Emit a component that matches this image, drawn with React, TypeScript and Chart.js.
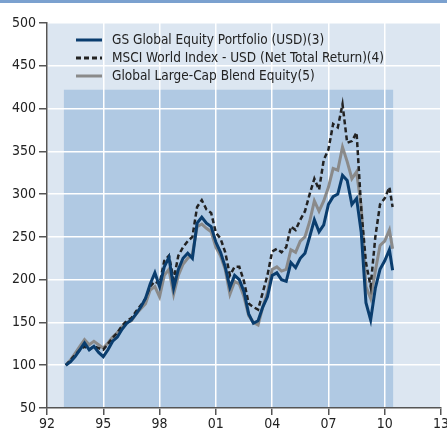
import { useEffect, useRef } from 'react';
import { Chart, registerables } from 'chart.js';

Chart.register(...registerables);

// Quarterly observation dates (decimal years)
const years = [
  1993.0, 1993.25, 1993.5, 1993.75,
  1994.0, 1994.25, 1994.5, 1994.75,
  1995.0, 1995.25, 1995.5, 1995.75,
  1996.0, 1996.25, 1996.5, 1996.75,
  1997.0, 1997.25, 1997.5, 1997.75,
  1998.0, 1998.25, 1998.5, 1998.75,
  1999.0, 1999.25, 1999.5, 1999.75,
  2000.0, 2000.25, 2000.5, 2000.75,
  2001.0, 2001.25, 2001.5, 2001.75,
  2002.0, 2002.25, 2002.5, 2002.75,
  2003.0, 2003.25, 2003.5, 2003.75,
  2004.0, 2004.25, 2004.5, 2004.75,
  2005.0, 2005.25, 2005.5, 2005.75,
  2006.0, 2006.25, 2006.5, 2006.75,
  2007.0, 2007.25, 2007.5, 2007.75,
  2008.0, 2008.25, 2008.5, 2008.75,
  2009.0, 2009.25, 2009.5, 2009.75,
  2010.0, 2010.25, 2010.42,
];

const gsPortfolio = [
  100, 104, 110, 118,
  126, 118, 122, 115,
  110, 118, 128, 133,
  142, 149, 153, 160,
  168, 178, 195, 208,
  192, 215, 226, 190,
  212, 225, 231, 225,
  266, 273, 266, 262,
  244, 232, 215, 191,
  205, 200, 186, 160,
  149, 152, 168, 180,
  205, 208, 200, 198,
  220, 214, 225, 231,
  250, 270, 256, 264,
  288, 297, 300, 322,
  316, 288, 295, 255,
  173, 153, 190, 212,
  222, 235, 211,
];

const msciWorld = [
  100, 106, 112, 118,
  122, 118, 122, 120,
  118, 125, 132, 138,
  146, 152, 155, 163,
  170, 178, 192, 198,
  195, 222, 228, 200,
  228, 238, 245, 250,
  285, 293, 282, 278,
  255, 248, 232, 205,
  215, 215, 198, 172,
  168, 165, 185, 205,
  233, 236, 232, 238,
  262, 258, 270, 280,
  300, 318, 305, 340,
  352, 382, 378, 405,
  360, 362, 372, 282,
  220, 192, 250, 288,
  295, 308, 285,
];

const largeCapBlend = [
  100, 106, 114, 122,
  130, 124, 128, 124,
  120, 126, 133, 138,
  145, 150, 152, 160,
  166, 172, 188, 192,
  180, 205, 212, 183,
  205, 218, 225, 230,
  262, 265, 260, 256,
  238, 228, 212, 183,
  198, 195, 180, 158,
  150, 147, 168, 185,
  212, 215, 210, 212,
  235, 232, 245, 250,
  268, 292, 280, 292,
  308, 330, 328, 355,
  338, 318, 326, 285,
  192, 178, 210, 240,
  245, 258, 236,
];

const seriesLabels = [
  'GS Global Equity Portfolio (USD)(3)',
  'MSCI World Index - USD (Net Total Return)(4)',
  'Global Large-Cap Blend Equity(5)',
];

const xMin = 1992;
const xMax = 2013;
const xStep = 3;
const yMin = 50;
const yMax = 500;
const yStep = 50;

// shaded period (performance window)
const bandStartYear = 1992.9;
const bandEndYear = 2010.45;
const bandTopValue = 422;

const FONT = "'Liberation Sans Narrow', 'DejaVu Sans Condensed', 'Liberation Sans', sans-serif";

const backgroundPlugin = {
  id: 'bgPlugin',
  beforeDraw(chart: any) {
    const { ctx, chartArea: a, scales } = chart;
    const x = scales.x;
    const y = scales.y;
    ctx.save();
    ctx.fillStyle = '#7ba1cf';
    ctx.fillRect(0, 0, chart.width, 3);
    ctx.fillStyle = '#dce6f1';
    ctx.fillRect(a.left, a.top, a.right - a.left, a.bottom - a.top);
    const x0 = x.getPixelForValue(bandStartYear);
    const x1 = x.getPixelForValue(bandEndYear);
    const yt = y.getPixelForValue(bandTopValue);
    ctx.fillStyle = '#b0c9e3';
    ctx.fillRect(x0, yt, x1 - x0, a.bottom - yt);
    ctx.restore();
  },
};

const legendPlugin = {
  id: 'insideLegend',
  afterDraw(chart: any) {
    const { ctx, chartArea: a } = chart;
    const lx = a.left + 29;
    const ly = a.top + 17;
    const gap = 18;
    chart.data.datasets.forEach((ds: any, i: number) => {
      const yc = ly + i * gap;
      ctx.save();
      ctx.strokeStyle = ds.borderColor;
      ctx.lineWidth = 3;
      ctx.setLineDash(ds.borderDash || []);
      ctx.beginPath();
      ctx.moveTo(lx, yc);
      ctx.lineTo(lx + 26, yc);
      ctx.stroke();
      ctx.setLineDash([]);
      ctx.fillStyle = '#222222';
      ctx.font = `13.5px ${FONT}`;
      ctx.textBaseline = 'middle';
      ctx.textAlign = 'left';
      ctx.fillText(ds.label, lx + 36, yc);
      ctx.restore();
    });
  },
};

export default function App() {
  const canvasRef = useRef<HTMLCanvasElement | null>(null);

  useEffect(() => {
    if (!canvasRef.current) return;
    const toPoints = (vals: number[]) => vals.map((v, i) => ({ x: years[i], y: v }));
    const chart = new Chart(canvasRef.current, {
      type: 'line',
      data: {
        datasets: [
          {
            label: seriesLabels[0],
            data: toPoints(gsPortfolio),
            borderColor: '#0a3d6e',
            borderWidth: 3,
            pointRadius: 0,
            tension: 0,
            fill: false,
          },
          {
            label: seriesLabels[1],
            data: toPoints(msciWorld),
            borderColor: '#222222',
            borderWidth: 2.5,
            borderDash: [5, 3],
            pointRadius: 0,
            tension: 0,
            fill: false,
          },
          {
            label: seriesLabels[2],
            data: toPoints(largeCapBlend),
            borderColor: '#8a8a8a',
            borderWidth: 3,
            pointRadius: 0,
            tension: 0,
            fill: false,
          },
        ],
      },
      options: {
        responsive: false,
        animation: false,
        layout: { padding: { top: 23, right: 6, left: 0, bottom: 0 } },
        plugins: {
          legend: { display: false },
          tooltip: { enabled: false },
        },
        scales: {
          x: {
            type: 'linear',
            min: xMin,
            max: xMax,
            afterFit: (s: any) => {
              s.height = 25;
              s.paddingLeft = 0;
              s.paddingRight = 0;
            },
            afterBuildTicks: (s: any) => {
              const t = [];
              for (let v = xMin; v <= xMax; v += xStep) t.push({ value: v });
              s.ticks = t;
            },
            ticks: {
              callback: (v: any) => String(Number(v) % 100).padStart(2, '0'),
              color: '#222222',
              font: { family: FONT, size: 14 },
              padding: 1,
              maxRotation: 0,
              autoSkip: false,
            },
            grid: {
              color: '#ffffff',
              lineWidth: 1.5,
              tickColor: '#555555',
              tickLength: 7,
              tickWidth: 1.5,
            },
            border: { display: true, color: '#555555', width: 1.5 },
          },
          y: {
            type: 'linear',
            min: yMin,
            max: yMax,
            afterFit: (s: any) => {
              s.width = 47;
              s.paddingTop = 0;
              s.paddingBottom = 0;
            },
            ticks: {
              stepSize: yStep,
              color: '#222222',
              font: { family: FONT, size: 14 },
              padding: 3,
            },
            grid: {
              color: '#ffffff',
              lineWidth: 1.5,
              tickColor: '#555555',
              tickLength: 8,
              tickWidth: 1.5,
            },
            border: { display: true, color: '#555555', width: 1.5 },
          },
        },
      },
      plugins: [backgroundPlugin, legendPlugin],
    });
    return () => chart.destroy();
  }, []);

  return (
    <div style={{ position: 'fixed', left: 0, top: 0, width: 447, height: 433, background: '#ffffff' }}>
      <canvas ref={canvasRef} width={447} height={433} />
    </div>
  );
}
